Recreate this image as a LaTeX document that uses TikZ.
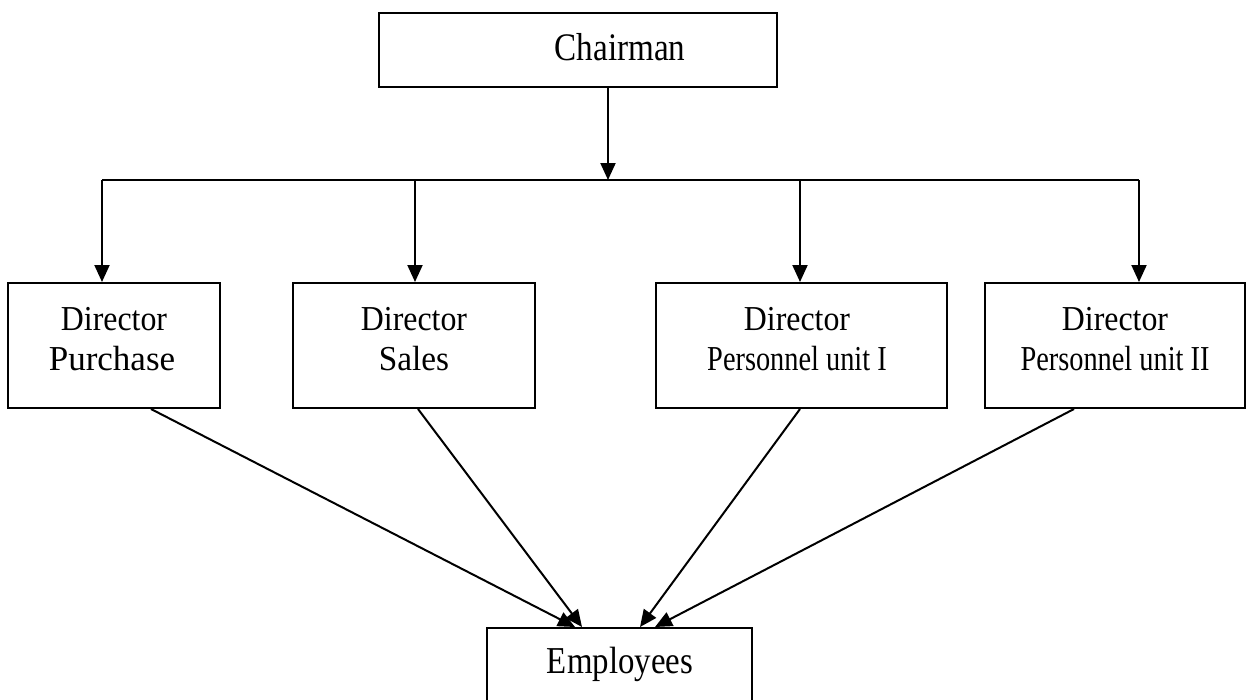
\documentclass[tikz,border=0pt]{standalone}
\usepackage{fontspec}
\setmainfont{Liberation Serif}
\usetikzlibrary{arrows.meta,calc}
\tikzset{
  box/.style={draw=black, line width=2pt, rectangle, inner sep=0pt},
  arr/.style={line width=2pt, -{Triangle[length=17pt,width=15pt]}},
  ln/.style={line width=2pt},
  dirfont/.style={font=\fontsize{35}{40}\selectfont, anchor=base, inner sep=0pt},
}
\newcommand{\sx}[2]{\scalebox{#1}[1]{#2}}
\begin{document}
\begin{tikzpicture}[x=1pt,y=-1pt]
\useasboundingbox[fill=white] (0,0) rectangle (1247,699);
\clip (0,0) rectangle (1247,699);
% Chairman
\node[box, minimum width=398pt, minimum height=74pt] (ch) at (578,50) {};
\node[font=\fontsize{39}{40}\selectfont, anchor=base, inner sep=0pt] (cht) at (620,60) {\sx{0.85}{Chairman}};
% Directors
\node[box, minimum width=212pt, minimum height=125pt] (pur) at (114,345.5) {};
\node[box, minimum width=242pt, minimum height=125pt] (sal) at (414,345.5) {};
\node[box, minimum width=291pt, minimum height=125pt] (pi) at (801.5,345.5) {};
\node[box, minimum width=260pt, minimum height=125pt] (pii) at (1115,345.5) {};
\node[dirfont] (purt1) at (114,330) {\sx{0.91}{Director}};
\node[dirfont] (purt2) at (112,370) {\sx{1.0}{Purchase}};
\node[dirfont] (salt1) at (414,330) {\sx{0.91}{Director}};
\node[dirfont] (salt2) at (414,370) {\sx{0.95}{Sales}};
\node[dirfont] (pit1) at (797,330) {\sx{0.91}{Director}};
\node[dirfont] (pit2) at (797,370) {\sx{0.81}{Personnel unit I}};
\node[dirfont] (piit1) at (1115,330) {\sx{0.91}{Director}};
\node[dirfont] (piit2) at (1115,370) {\sx{0.81}{Personnel unit II}};
% Employees
\node[box, minimum width=265pt, minimum height=100pt, anchor=north] (emp) at (619.5,627) {};
\node[font=\fontsize{38}{40}\selectfont, anchor=base, inner sep=0pt] (empt) at (620,673) {\sx{0.865}{Employees}};
% bus
\coordinate (bus) at (608,180);
\coordinate (b1) at (102,180);
\coordinate (b2) at (415,180);
\coordinate (b3) at (800,180);
\coordinate (b4) at (1139,180);
\draw[arr] (ch.south -| bus) -- (bus);
\draw[ln] (b1) -- (b4);
\draw[arr] (b1) -- (pur.north -| b1);
\draw[arr] (b2) -- (sal.north -| b2);
\draw[arr] (b3) -- (pi.north -| b3);
\draw[arr] (b4) -- (pii.north -| b4);
% to employees
\draw[arr] ([xshift=37pt]pur.south) -- ([xshift=-44.5pt]emp.north);
\draw[arr] ([xshift=4pt]sal.south) -- ([xshift=-37.5pt]emp.north);
\draw[arr] ([xshift=-1.5pt]pi.south) -- ([xshift=20.5pt]emp.north);
\draw[arr] ([xshift=-41pt]pii.south) -- ([xshift=35.5pt]emp.north);
\end{tikzpicture}
\end{document}
